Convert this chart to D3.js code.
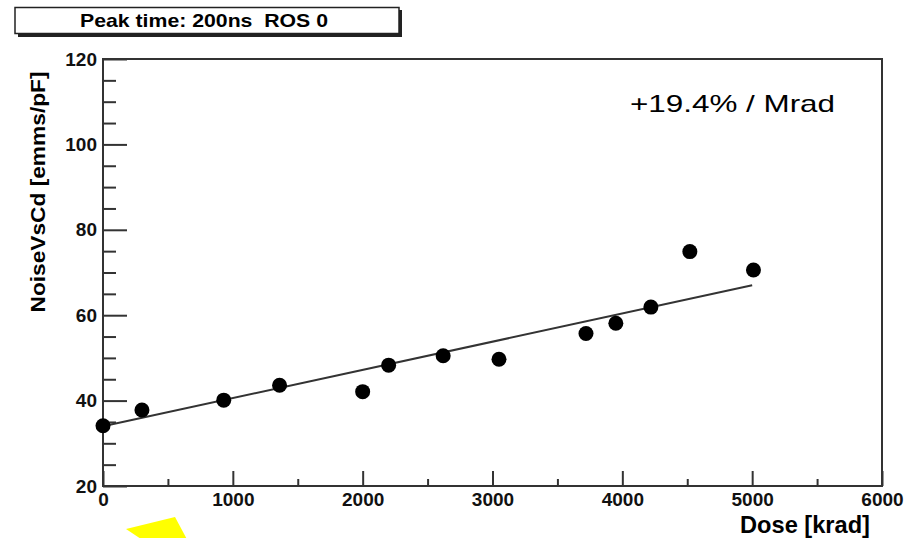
<!DOCTYPE html>
<html>
<head>
<meta charset="utf-8">
<script src="https://cdn.jsdelivr.net/npm/d3@7"></script>
<style>
  body { margin: 0; background: #fff; }
  .tick text { font-family: "Liberation Sans Narrow", "Arial Narrow", "Liberation Sans", sans-serif; font-weight: bold; font-size: 19px; fill: #111; }
  .tick line { stroke: #333; stroke-width: 2; }
</style>
</head>
<body>
<div id="chart"></div>
<script>
// values
const doseKrad = [0, 300, 930, 1360, 2000, 2200, 2620, 3050, 3720, 3950, 4220, 4520, 5010];
const noise = [34.1, 37.8, 40.1, 43.6, 42.1, 48.3, 50.5, 49.7, 55.7, 58.1, 61.9, 74.9, 70.6];
const fitDose = [0, 5000];
const fitNoise = [34.0, 67.0];
const xTicks = [0, 1000, 2000, 3000, 4000, 5000, 6000];
const yTicks = [20, 40, 60, 80, 100, 120];
const titleText = "Peak time: 200ns  ROS 0";
const slopeText = "+19.4% / Mrad";

const W = 917, H = 538;
const pLeft = 103, pRight = 882, pTop = 59, pBottom = 486;

const svg = d3.select("#chart").append("svg")
  .attr("width", W)
  .attr("height", H);

const x = d3.scaleLinear().domain([0, 6000]).range([pLeft, pRight]);
const y = d3.scaleLinear().domain([20, 120]).range([pBottom, pTop]);

// title box with shadow
svg.append("rect").attr("x", 18).attr("y", 10).attr("width", 384).attr("height", 27).attr("fill", "#222");
svg.append("rect").attr("x", 15).attr("y", 7.5).attr("width", 384).attr("height", 26)
  .attr("fill", "#fff").attr("stroke", "#222").attr("stroke-width", 1.5);
svg.append("text")
  .attr("x", 80).attr("y", 27)
  .attr("textLength", 248).attr("lengthAdjust", "spacingAndGlyphs")
  .style("white-space", "pre")
  .style("font-family", "'Liberation Sans Narrow', 'Liberation Sans', sans-serif")
  .style("font-weight", "bold").style("font-size", "19px")
  .text(titleText);

// minor ticks
svg.append("g")
  .attr("transform", "translate(" + pLeft + ",0)")
  .call(d3.axisLeft(y).tickValues(d3.range(20, 121, 5).filter(v => v % 20)).tickSizeInner(-13).tickSizeOuter(0).tickFormat(""))
  .call(g => g.select(".domain").remove());
svg.append("g")
  .attr("transform", "translate(0," + pBottom + ")")
  .call(d3.axisBottom(x).tickValues(d3.range(500, 6000, 1000)).tickSizeInner(-7).tickSizeOuter(0).tickFormat(""))
  .call(g => g.select(".domain").remove());

// major ticks
svg.append("g")
  .attr("transform", "translate(" + pLeft + ",0)")
  .call(d3.axisLeft(y).tickValues(yTicks).tickSizeInner(-24).tickSizeOuter(0).tickPadding(6).tickFormat(d3.format("d")))
  .call(g => g.select(".domain").remove());
svg.append("g")
  .attr("transform", "translate(0," + pBottom + ")")
  .call(d3.axisBottom(x).tickValues(xTicks).tickSizeInner(-15).tickSizeOuter(0).tickPadding(7).tickFormat(d3.format("d")))
  .call(g => g.select(".domain").remove());

// frame
svg.append("rect")
  .attr("x", pLeft).attr("y", pTop)
  .attr("width", pRight - pLeft).attr("height", pBottom - pTop)
  .attr("fill", "none").attr("stroke", "#333").attr("stroke-width", 2);

// fit line
svg.append("path")
  .datum(fitDose.map((d, i) => [d, fitNoise[i]]))
  .attr("fill", "none").attr("stroke", "#333").attr("stroke-width", 2)
  .attr("d", d3.line().x(d => x(d[0])).y(d => y(d[1])));

// points
svg.selectAll("circle.pt")
  .data(doseKrad)
  .enter().append("circle")
  .attr("class", "pt")
  .attr("cx", d => x(d))
  .attr("cy", (d, i) => y(noise[i]))
  .attr("r", 7.5)
  .attr("fill", "#000");

// labels
svg.append("text")
  .attr("x", 630).attr("y", 112)
  .attr("textLength", 205).attr("lengthAdjust", "spacingAndGlyphs")
  .style("font-family", "'Liberation Sans', sans-serif").style("font-size", "24px")
  .text(slopeText);

svg.append("text")
  .attr("x", 740).attr("y", 533)
  .attr("textLength", 130).attr("lengthAdjust", "spacingAndGlyphs")
  .style("font-family", "'Liberation Sans', sans-serif").style("font-size", "24px")
  .style("font-weight", "bold")
  .text("Dose [krad]");

svg.append("text")
  .attr("transform", "translate(45,192) rotate(-90)")
  .attr("text-anchor", "middle")
  .attr("textLength", 241).attr("lengthAdjust", "spacingAndGlyphs")
  .style("font-family", "'Liberation Sans', sans-serif").style("font-size", "21px")
  .style("font-weight", "bold")
  .text("NoiseVsCd [emms/pF]");

// yellow marker at the bottom
svg.append("polygon")
  .attr("points", "126,529 175,517 190,545 150,545")
  .attr("fill", "#ffff00");
</script>
</body>
</html>
